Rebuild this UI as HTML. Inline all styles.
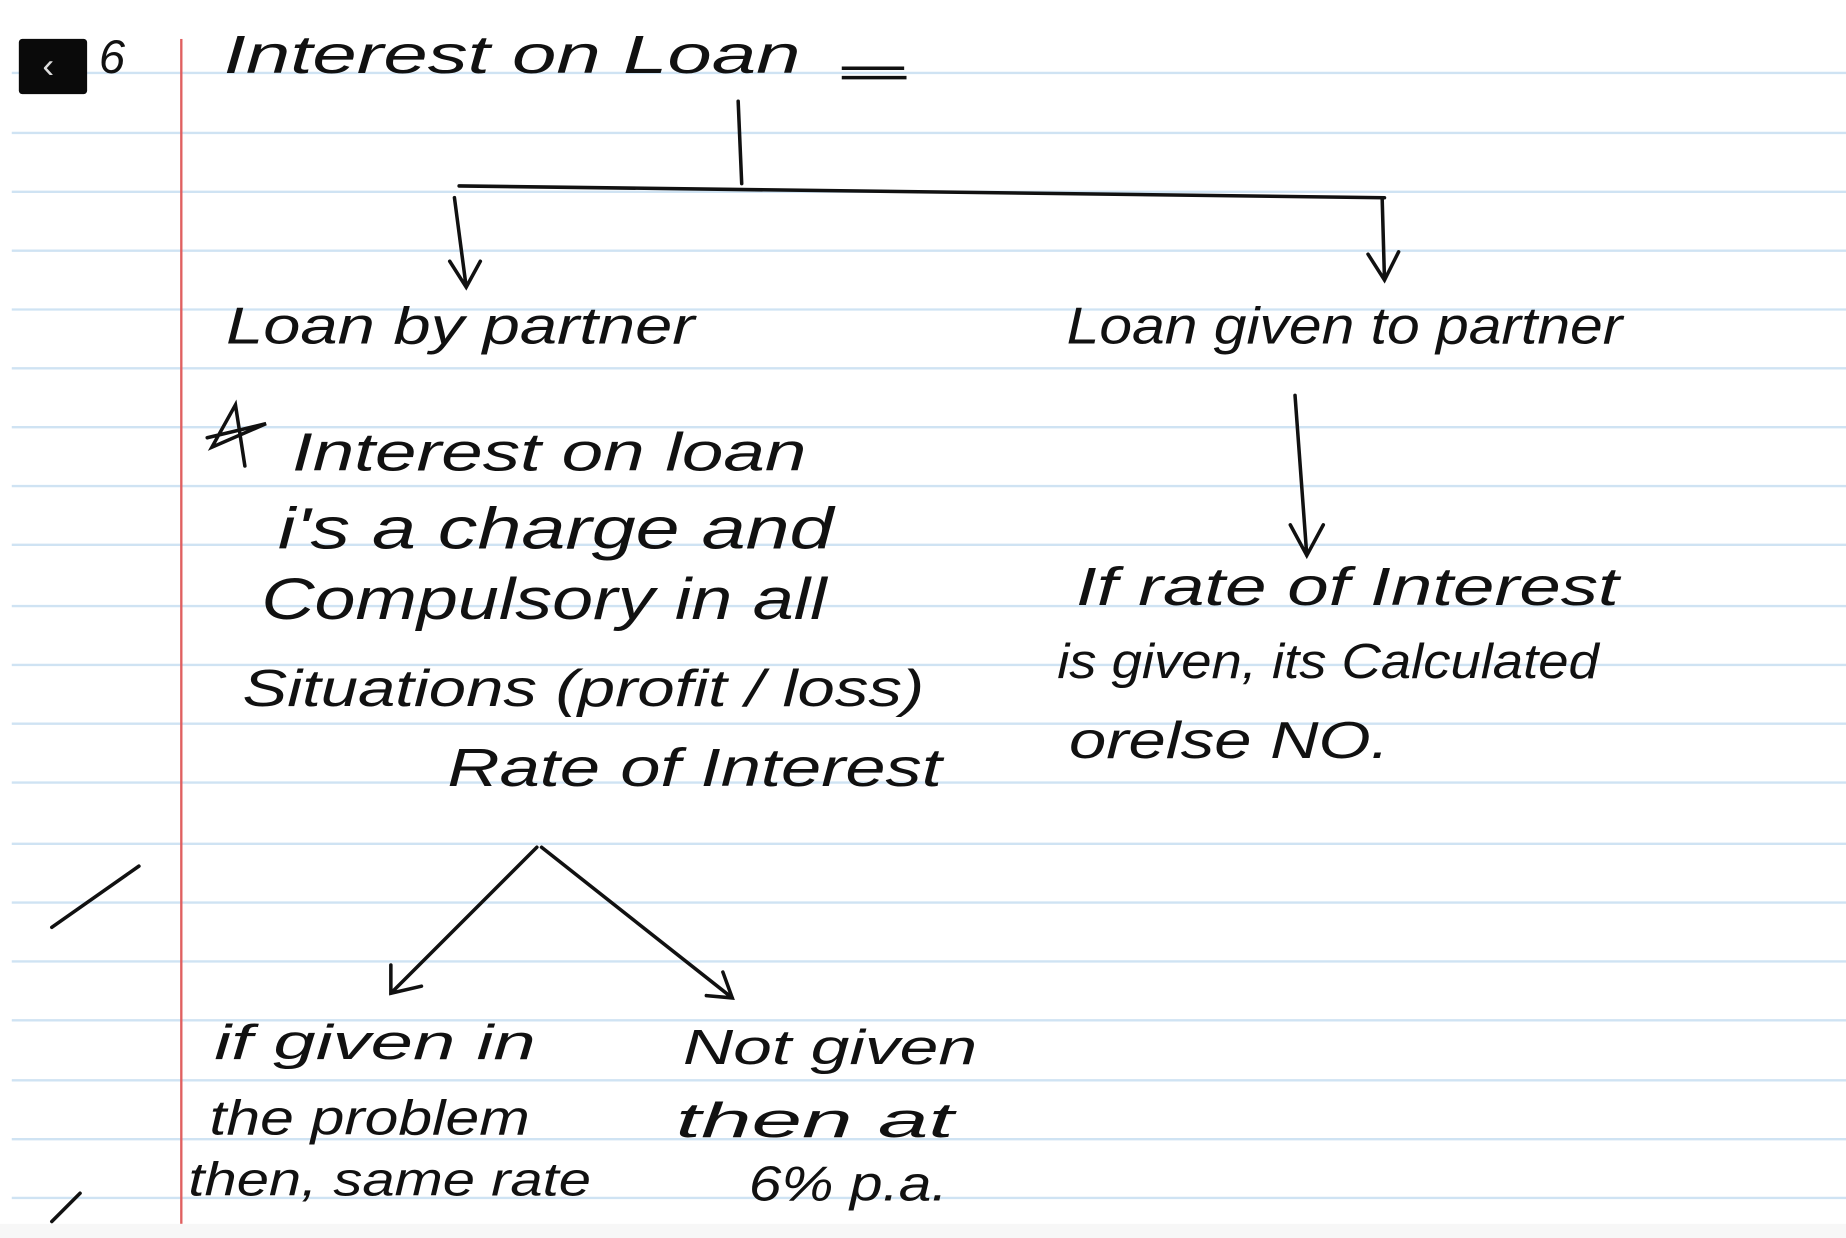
<!DOCTYPE html>
<html><head><meta charset="utf-8"><style>
html,body{margin:0;padding:0;background:#fff;}
svg{display:block}
text{font-family:"Liberation Sans",sans-serif;font-style:italic;fill:#111;}
</style></head><body>
<svg width="1846" height="1238" viewBox="0 0 1568 1052" preserveAspectRatio="none" xmlns="http://www.w3.org/2000/svg">
<rect width="1568" height="1052" fill="#fff"/>
<g stroke="#cfe3f3" stroke-width="2">
<line x1="10" y1="62" x2="1568" y2="62"/><line x1="10" y1="113" x2="1568" y2="113"/>
<line x1="10" y1="163" x2="1568" y2="163"/><line x1="10" y1="213" x2="1568" y2="213"/>
<line x1="10" y1="263" x2="1568" y2="263"/><line x1="10" y1="313" x2="1568" y2="313"/>
<line x1="10" y1="363" x2="1568" y2="363"/><line x1="10" y1="413" x2="1568" y2="413"/>
<line x1="10" y1="463" x2="1568" y2="463"/><line x1="10" y1="515" x2="1568" y2="515"/>
<line x1="10" y1="565" x2="1568" y2="565"/><line x1="10" y1="615" x2="1568" y2="615"/>
<line x1="10" y1="665" x2="1568" y2="665"/><line x1="10" y1="717" x2="1568" y2="717"/>
<line x1="10" y1="767" x2="1568" y2="767"/><line x1="10" y1="817" x2="1568" y2="817"/>
<line x1="10" y1="867" x2="1568" y2="867"/><line x1="10" y1="918" x2="1568" y2="918"/>
<line x1="10" y1="968" x2="1568" y2="968"/><line x1="10" y1="1018" x2="1568" y2="1018"/>
</g>
<line x1="154" y1="33" x2="154" y2="1040" stroke="#e06060" stroke-width="2"/>
<rect x="0" y="0" width="1568" height="33" fill="#fff"/>
<rect x="0" y="1040" width="1568" height="12" fill="#f7f7f7"/>
<rect x="16" y="33" width="58" height="47" rx="3" fill="#0a0a0a"/>
<text x="36" y="66" style="font-style:normal;fill:#ddd;font-size:30px">‹</text>
<text x="84" y="62" font-size="40">6</text>
<text x="190" y="62" font-size="46" textLength="490" lengthAdjust="spacingAndGlyphs">Interest on Loan</text>
<line x1="715" y1="58" x2="768" y2="58" stroke="#111" stroke-width="3"/>
<line x1="715" y1="66" x2="770" y2="66" stroke="#111" stroke-width="3"/>
<g stroke="#111" stroke-width="3" fill="none" stroke-linecap="round">
<path d="M627 86 L630 156"/>
<path d="M390 158 L1176 168"/>
<path d="M386 168 L396 244 M382 222 L396 244 L408 222"/>
<path d="M1174 168 L1176 238 M1162 216 L1176 238 L1188 214"/>
<path d="M1100 336 L1110 472 M1096 446 L1110 472 L1124 446"/>
<path d="M456 720 L332 844 M332 820 L332 844 L358 838"/>
<path d="M460 720 L622 848 M600 846 L622 848 L614 826"/>
<path d="M44 788 L118 736"/>
<path d="M44 1038 L68 1014"/>
<path d="M176 372 L226 360 L180 380 L200 344 L208 396"/>
</g>
<text x="192" y="292" font-size="44" textLength="398" lengthAdjust="spacingAndGlyphs">Loan by partner</text>
<text x="906" y="292" font-size="44" textLength="472" lengthAdjust="spacingAndGlyphs">Loan given to partner</text>
<text x="248" y="400" font-size="46" textLength="437" lengthAdjust="spacingAndGlyphs">Interest on loan</text>
<text x="236" y="466" font-size="50" textLength="472" lengthAdjust="spacingAndGlyphs">i's a charge and</text>
<text x="222" y="526" font-size="50" textLength="480" lengthAdjust="spacingAndGlyphs">Compulsory in all</text>
<text x="206" y="600" font-size="44" textLength="579" lengthAdjust="spacingAndGlyphs">Situations (profit / loss)</text>
<text x="380" y="668" font-size="46" textLength="420" lengthAdjust="spacingAndGlyphs">Rate of Interest</text>
<text x="914" y="514" font-size="46" textLength="461" lengthAdjust="spacingAndGlyphs">If rate of Interest</text>
<text x="898" y="576" font-size="42" textLength="460" lengthAdjust="spacingAndGlyphs">is given, its Calculated</text>
<text x="908" y="644" font-size="44" textLength="272" lengthAdjust="spacingAndGlyphs">orelse NO.</text>
<text x="182" y="900" font-size="42" textLength="273" lengthAdjust="spacingAndGlyphs">if given in</text>
<text x="178" y="964" font-size="42" textLength="272" lengthAdjust="spacingAndGlyphs">the problem</text>
<text x="160" y="1016" font-size="40" textLength="342" lengthAdjust="spacingAndGlyphs">then, same rate</text>
<text x="580" y="904" font-size="42" textLength="250" lengthAdjust="spacingAndGlyphs">Not given</text>
<text x="574" y="966" font-size="42" textLength="236" lengthAdjust="spacingAndGlyphs">then at</text>
<text x="636" y="1020" font-size="42" textLength="169" lengthAdjust="spacingAndGlyphs">6% p.a.</text>
</svg>
</body></html>
